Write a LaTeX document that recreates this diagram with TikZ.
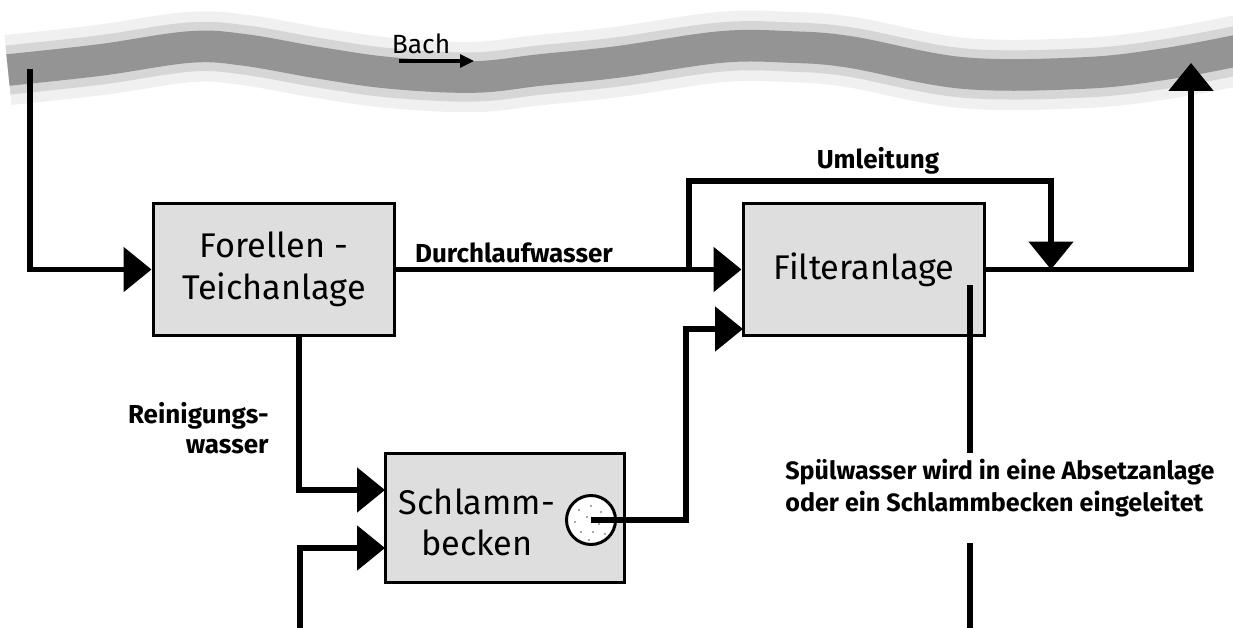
\documentclass[tikz,border=0pt]{standalone}
\usepackage{fontspec}
\setmainfont{Fira Sans}
\usetikzlibrary{arrows.meta,calc}
\begin{document}
\begin{tikzpicture}[x=0.02cm,y=-0.02cm,
  flow/.style={line width=3.1pt, line join=miter},
  tri/.style={-{Triangle[length=0.56cm,width=0.88cm]}},
  box/.style={draw, line width=1.7pt, fill=black!13, minimum width=4.84cm, minimum height=2.66cm, inner sep=0pt, font=\fontsize{19.5}{24}\selectfont, align=center},
  lbl/.style={font=\bfseries\fontsize{14.8}{18}\selectfont, inner sep=0pt}]
\useasboundingbox (0,0) rectangle (1233,628);
% river
\def\river{(8,70) (100,60) (190,47) (245,50) (320,63) (391,73) (474,77) (540,70) (617,62) (721,47) (790,47) (850,52) (963,73) (1084,73) (1165,64) (1240,50)}
\draw[black!6, line width=40pt] plot[smooth, tension=0.6] coordinates {\river};
\draw[black!16, line width=28pt] plot[smooth, tension=0.6] coordinates {\river};
\draw[black!42, line width=18pt] plot[smooth, tension=0.6] coordinates {\river};
\node[font=\fontsize{15}{18}\selectfont, inner sep=0pt] (bach) at (421,44) {Bach};
\coordinate (b1) at (399,61);
\coordinate (b2) at (474,61);
\draw[line width=1.8pt, -{Triangle[length=0.28cm,width=0.26cm]}] (b1) -- (b2);

% boxes
\node[box] (forellen) at (274,269.5) {Forellen -\\Teichanlage};
\node[box] (filter) at (864,269.5) {Filteranlage};
\node[box, minimum width=4.8cm, minimum height=2.6cm] (schlamm) at (505,518) {};
\node[font=\fontsize{19.5}{23.5}\selectfont, align=center, inner sep=0pt] (schlammtxt) at (477,522) {Schlamm-\\becken};
\node[circle, draw, line width=1.7pt, fill=white, minimum size=0.98cm, inner sep=0pt] (sieb) at (591,520) {};
\foreach \dx/\dy in {-12/-10,0/-14,10/-8,-16/2,-4/-3,8/4,-10/12,2/12,14/14,-2/20}
  \fill[black!45] ($(sieb.center)+(\dx,\dy)$) circle (0.7pt);

% coordinates
\coordinate (in0) at (30,69);
\coordinate (split) at (689,269.5);
\coordinate (umlL) at (689,181);
\coordinate (merge) at (1051,269.5);
\coordinate (out) at (1191,63);
\coordinate (fs) at (299,336);
\coordinate (s1) at (385,490);
\coordinate (s2) at (385,548);
\coordinate (f2) at (743,329);
\coordinate (up) at (686,329);
\coordinate (sp1) at (970,285);
\coordinate (sp2) at (970,453);
\coordinate (sp3) at (970,543);
\coordinate (bot1) at (970,630.5);
\coordinate (bot2) at (300,630.5);

% connectors
\draw[flow,tri] (in0) |- (forellen.west);
\draw[flow,tri] (forellen.east) -- (filter.west);
\draw[flow,tri] (split) -- (umlL) -| (merge);
\draw[flow,tri] (filter.east) -| (out);
\draw[flow,tri] (sieb.center) -| (up) -- (f2);
\draw[flow,tri] (fs) |- (s1);
\draw[flow] (sp1) -- (sp2);
\draw[flow,tri] (sp3) -- (bot1) -- (bot2) |- (s2);

% labels
\node[lbl] (uml) at (878,161) {Umleitung};
\node[lbl] (durch) at (514,253) {Durchlaufwasser};
\node[lbl, anchor=east, align=right, font=\bfseries\fontsize{14.8}{17}\selectfont] (rein) at (269,428) {Reinigungs-\\wasser};
\node[lbl, anchor=west, align=left, font=\bfseries\fontsize{14.3}{18}\selectfont] (spuel) at (785,488) {Spülwasser wird in eine Absetzanlage\\oder ein Schlammbecken eingeleitet};
\end{tikzpicture}
\end{document}
